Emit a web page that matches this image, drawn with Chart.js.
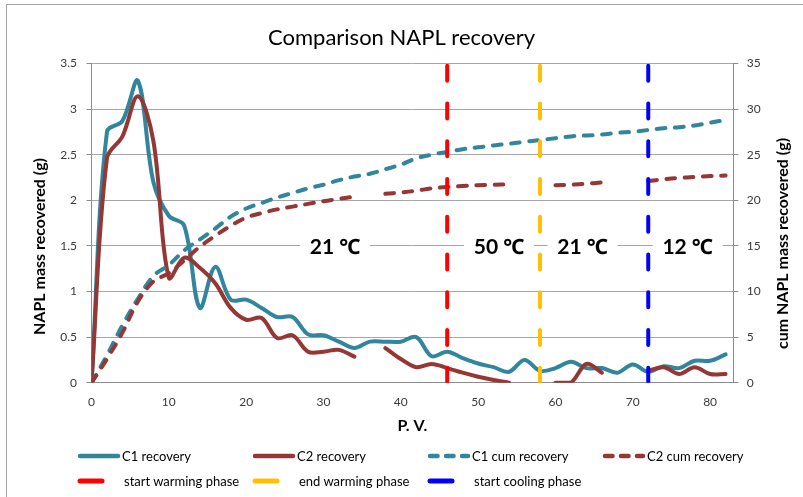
<!DOCTYPE html>
<html>
<head>
<meta charset="utf-8">
<title>Comparison NAPL recovery</title>
<script src="https://cdn.jsdelivr.net/npm/chart.js@4.4.1/dist/chart.umd.min.js"></script>
<style>
  html, body { margin: 0; padding: 0; background: #fff; }
  #wrap { position: relative; width: 803px; height: 497px; overflow: hidden; font-family: Lato, "Noto Sans", sans-serif; }
  #frame { position: absolute; left: 6px; top: 4px; width: 900px; height: 600px; border: 1px solid #a6a6a6; box-sizing: border-box; }
  #chart { position: absolute; left: 0; top: 0; }
  #legend { position: absolute; left: 0; top: 0; width: 803px; height: 497px; pointer-events: none; }
  .item { position: absolute; display: flex; align-items: center; height: 20px; font-size: 13px; color: #000; white-space: nowrap; }
  .item svg { display: block; flex: none; }
</style>
</head>
<body>
<div id="wrap">
  <div id="frame"></div>
  <canvas id="chart" width="803" height="497"></canvas>
  <div id="legend"></div>
</div>
<script>
// Pore volumes flushed (x values shared by every series)
const pv = [0, 2, 4, 6, 8, 10, 12, 14, 16, 18, 20, 22, 24, 26, 28, 30, 32, 34, 36, 38,
            40, 42, 44, 46, 48, 50, 52, 54, 56, 58, 60, 62, 64, 66, 68, 70, 72, 74, 76, 78, 80, 82];

// NAPL mass recovered per sample (g), left axis
const c1Recovery = [0, 2.75, 2.87, 3.31, 2.2, 1.83, 1.72, 0.82, 1.27, 0.91,
                    0.91, 0.82, 0.72, 0.72, 0.53, 0.52, 0.45, 0.38, 0.45, 0.45,
                    0.45, 0.50, 0.29, 0.34, 0.27, 0.21, 0.17, 0.12, 0.25, 0.13,
                    0.16, 0.23, 0.16, 0.16, 0.11, 0.20, 0.12, 0.18, 0.16, 0.24,
                    0.24, 0.31];
const c2Recovery = [0, 2.46, 2.70, 3.14, 2.65, 1.15, 1.37, 1.26, 1.09, 0.82,
                    0.69, 0.71, 0.49, 0.52, 0.34, 0.34, 0.36, 0.285, null, 0.38,
                    0.26, 0.17, 0.205, 0.16, 0.11, 0.066, 0.03, 0.0, null, null,
                    0.0, 0.0, 0.205, 0.11, null, null, 0.13, 0.17, 0.095, 0.17,
                    0.095, 0.095];

// Cumulative NAPL mass recovered (g), right axis
const c1Cum = [0, 3.0, 6.3, 9.2, 11.7, 12.9, 14.5, 15.7, 16.9, 18.2,
               19.1, 19.7, 20.3, 20.8, 21.3, 21.7, 22.2, 22.6, 22.9, 23.4,
               23.9, 24.6, 25.0, 25.3, 25.6, 25.8, 26.0, 26.2, 26.4, 26.6,
               26.8, 27.0, 27.1, 27.2, 27.4, 27.5, 27.7, 27.9, 28.0, 28.2,
               28.5, 28.8];
const c2Cum = [0, 2.6, 5.5, 8.9, 11.1, 12.0, 13.4, 14.9, 16.1, 17.2,
               18.1, 18.6, 19.0, 19.3, 19.6, 19.9, 20.15, 20.4, null, 20.7,
               20.85, 21.05, 21.3, 21.45, 21.55, 21.65, 21.7, 21.75, null, null,
               21.65, 21.7, 21.8, 21.95, null, null, 22.1, 22.3, 22.45, 22.55,
               22.65, 22.7];

// Temperature phase changes (P.V.)
const phaseNames = ['start warming phase', 'end warming phase', 'start cooling phase'];
const phasePV = [46, 58, 72];

// Temperature of each flushing stage, written across the 1.5 g gridline
const stageLabels = ['21 \u2103', '50 \u2103', '21 \u2103', '12 \u2103'];
const stagePV = [31.5, 52.7, 63.5, 77.1];
const stageLevel = 1.5;

// Axis ranges and tick steps
const xTicks = { min: 0, max: 83, step: 10 };
const yTicks = { min: 0, max: 3.5, step: 0.5 };
const y2Ticks = { min: 0, max: 35, step: 5 };

const titleText = 'Comparison NAPL recovery';
const xTitle = 'P. V.';
const yTitle = 'NAPL mass recovered (g)';
const y2Title = 'cum NAPL mass recovered (g)';

const TEAL = '#31859c';
const BROWN = '#953735';
const PHASE_COLORS = ['#ff0000', '#ffc000', '#0000ff'];
const GRID = '#a6a6a6';
const AXIS = '#8c8c8c';
const TICK_TXT = '#3a3a3a';
const FONT = 'Lato, "Noto Sans", "Noto Sans CJK SC", sans-serif';

const plainNumber = v => String(Number(v.toFixed(2)));

const toPoints = ys => pv.map((x, i) => ({ x: x, y: ys[i] }));

const solid = (label, ys, color, order) => ({
  label, data: toPoints(ys), yAxisID: 'y', borderColor: color, backgroundColor: color,
  borderWidth: 4, pointRadius: 0, tension: 0.35, spanGaps: false, order,
  borderCapStyle: 'round', borderJoinStyle: 'round', legendKind: 'solid'
});
const dashed = (label, ys, color, order) => ({
  label, data: toPoints(ys), yAxisID: 'y2', borderColor: color, backgroundColor: color,
  borderWidth: 4, borderDash: [8.7, 9.6], borderCapStyle: 'round', pointRadius: 0,
  tension: 0.35, spanGaps: false, order, legendKind: 'dash'
});
const phaseLine = (i) => ({
  label: phaseNames[i],
  data: [{ x: phasePV[i], y: yTicks.min }, { x: phasePV[i], y: yTicks.max }],
  yAxisID: 'y', borderColor: PHASE_COLORS[i], backgroundColor: PHASE_COLORS[i],
  borderWidth: 4, borderDash: [15, 22.75], borderCapStyle: 'round', pointRadius: 0,
  tension: 0, order: 3 - i, legendKind: 'phase'
});

const datasets = [
  solid('C1 recovery', c1Recovery, TEAL, 7),
  solid('C2 recovery', c2Recovery, BROWN, 6),
  dashed('C1 cum recovery', c1Cum, TEAL, 5),
  dashed('C2 cum recovery', c2Cum, BROWN, 4),
  phaseLine(0), phaseLine(1), phaseLine(2)
];

// Rotated titles for both value axes (both read bottom-to-top)
const sideTitles = {
  id: 'sideTitles',
  afterDraw(chart) {
    const ctx = chart.ctx;
    ctx.save();
    ctx.fillStyle = '#000';
    ctx.font = 'bold 16px ' + FONT;
    ctx.textAlign = 'center';
    ctx.textBaseline = 'middle';
    [[yTitle, 40, 246.5], [y2Title, 783, 243.5]].forEach(([t, x, y]) => {
      ctx.save();
      ctx.translate(x, y);
      ctx.rotate(-Math.PI / 2);
      ctx.fillText(t, 0, 0);
      ctx.restore();
    });
    ctx.restore();
  }
};

// Stage temperatures on white boxes over the gridline
const stageText = {
  id: 'stageText',
  afterDatasetsDraw(chart) {
    const ctx = chart.ctx;
    const xs = chart.scales.x, ys = chart.scales.y;
    ctx.save();
    ctx.font = 'bold 21px ' + FONT;
    ctx.textAlign = 'center';
    ctx.textBaseline = 'middle';
    stageLabels.forEach((t, i) => {
      const cx = xs.getPixelForValue(stagePV[i]);
      const cy = ys.getPixelForValue(stageLevel);
      ctx.fillStyle = '#fff';
      ctx.fillRect(cx - 35, cy - 13, 70, 27);
      ctx.fillStyle = '#000';
      ctx.fillText(t, cx, cy + 1);
    });
    ctx.restore();
  }
};

const chart = new Chart(document.getElementById('chart'), {
  type: 'line',
  data: { datasets },
  plugins: [stageText, sideTitles],
  options: {
    responsive: false,
    animation: false,
    devicePixelRatio: 1,
    layout: { padding: { left: 0, right: 0, top: 0, bottom: 60 } },
    font: { family: FONT },
    plugins: {
      legend: { display: false },
      tooltip: { enabled: false },
      title: {
        display: true, text: titleText, color: '#000',
        font: { family: FONT, size: 22, weight: 'normal' },
        padding: { top: 25, bottom: 12 }
      }
    },
    scales: {
      x: {
        type: 'linear', min: xTicks.min, max: xTicks.max,
        ticks: { stepSize: xTicks.step, includeBounds: false, padding: 12, color: TICK_TXT, font: { family: FONT, size: 12 }, callback: plainNumber },
        grid: { drawOnChartArea: false, drawTicks: false },
        border: { color: AXIS, width: 1 },
        title: { display: true, text: xTitle, color: '#000', font: { family: FONT, size: 16, weight: 'bold' }, padding: { top: 0, bottom: 1.4 } },
        afterFit(s) { s.height = 497 - 60 - 382.7; }
      },
      y: {
        position: 'left', min: yTicks.min, max: yTicks.max,
        ticks: { stepSize: yTicks.step, padding: 9.5, color: TICK_TXT, font: { family: FONT, size: 12 }, callback: plainNumber },
        grid: { color: GRID, tickLength: 5, tickColor: AXIS },
        border: { color: AXIS, width: 1 },
        afterFit(s) { s.width = 91.5; }
      },
      y2: {
        position: 'right', min: y2Ticks.min, max: y2Ticks.max,
        ticks: { stepSize: y2Ticks.step, padding: 8.4, color: TICK_TXT, font: { family: FONT, size: 12 }, callback: plainNumber },
        grid: { drawOnChartArea: false, tickLength: 5, color: AXIS },
        border: { color: AXIS, width: 1 },
        afterFit(s) { s.width = 803 - 733.3; }
      }
    }
  }
});

// Legend in two rows: four data series, then the three phase markers
(function buildLegend() {
  const host = document.getElementById('legend');
  const colLeft = [80, 255, 430, 605];
  const rows = [
    { y: 455.5, sample: 38, gap: 4 },
    { y: 481, sample: 22, gap: 22 }
  ];
  const svgNS = 'http://www.w3.org/2000/svg';
  let series = 0, phase = 0;
  chart.data.datasets.forEach(ds => {
    const isPhase = ds.legendKind === 'phase';
    const row = rows[isPhase ? 1 : 0];
    const col = isPhase ? phase++ : series++;
    const item = document.createElement('div');
    item.className = 'item';
    item.style.left = (colLeft[col] - 3) + 'px';
    item.style.top = (row.y - 10) + 'px';
    const svg = document.createElementNS(svgNS, 'svg');
    const w = row.sample + 6;
    svg.setAttribute('width', w);
    svg.setAttribute('height', 10);
    const ln = document.createElementNS(svgNS, 'line');
    ln.setAttribute('x1', 3); ln.setAttribute('x2', w - 3);
    ln.setAttribute('y1', 5); ln.setAttribute('y2', 5);
    ln.setAttribute('stroke', ds.borderColor);
    ln.setAttribute('stroke-linecap', 'round');
    ln.setAttribute('stroke-width', isPhase ? 5 : 4.5);
    if (ds.legendKind === 'dash') ln.setAttribute('stroke-dasharray', '7.5 8.5');
    svg.appendChild(ln);
    const txt = document.createElement('span');
    txt.textContent = ds.label;
    txt.style.marginLeft = (row.gap - 3) + 'px';
    item.appendChild(svg);
    item.appendChild(txt);
    host.appendChild(item);
  });
})();
</script>
</body>
</html>
